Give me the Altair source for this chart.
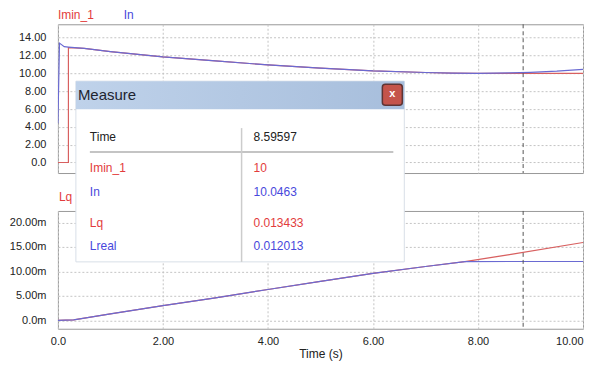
import altair as alt
import pandas as pd

# ---------------- data ----------------
top_series = ["Imin_1", "In"]
bottom_series = ["Lq", "Lreal"]

t_imin = [0.0, 0.2, 0.2, 0.5, 1.0, 2.0, 3.0, 4.0, 5.0, 6.0, 7.0, 7.5, 8.0, 10.0]
imin_vals = [0.0, 0.0, 12.9, 12.8, 12.45, 11.85, 11.4, 10.95, 10.6, 10.28, 10.1, 10.03, 10.0, 10.0]

t_in = [0.0, 0.03, 0.12, 0.2, 0.5, 1.0, 2.0, 3.0, 4.0, 5.0, 6.0, 7.0, 7.5, 8.0, 8.6, 9.0, 9.5, 10.0]
in_vals = [4.4, 13.4, 13.0, 12.95, 12.8, 12.45, 11.85, 11.4, 10.95, 10.6, 10.28, 10.1, 10.03, 10.0, 10.05, 10.12, 10.25, 10.45]

t_lq = [0.0, 0.3, 1.0, 2.0, 3.0, 4.0, 5.0, 6.0, 7.0, 7.75, 8.6, 10.0]
lq_vals = [0.0, 0.0001, 0.0013, 0.0030, 0.0046, 0.0063, 0.00795, 0.0096, 0.0110, 0.0120, 0.013433, 0.0159]

t_lreal = [0.0, 0.3, 1.0, 2.0, 3.0, 4.0, 5.0, 6.0, 7.0, 7.75, 8.6, 10.0]
lreal_vals = [0.0, 0.0001, 0.0013, 0.0030, 0.0046, 0.0063, 0.00795, 0.0096, 0.0110, 0.0120, 0.012013, 0.012013]

cursor_time = [8.86]

x_ticks = [0, 2, 4, 6, 8, 10]
top_y_ticks = [0, 2, 4, 6, 8, 10, 12, 14]
bottom_y_ticks = [0, 0.005, 0.010, 0.015, 0.020]

measure_title = "Measure"
measure_names = ["Time", "Imin_1", "In", "Lq", "Lreal"]
measure_values = ["8.59597", "10", "10.0463", "0.013433", "0.012013"]
x_title = "Time (s)"

# ---------------- styles / layout ----------------
RED_T = "#e23c3c"
BLUE_T = "#4848dc"
RED_L = "#d86060"
BLUE_L = "#6a6ad2"
FONT = "Liberation Sans"
W = 526
H_TOP = 149
H_BOT = 118
row_px = [-74, -43, -19, 12, 35]
row_colors = ["#222222", RED_T, BLUE_T, RED_T, BLUE_T]

one = pd.DataFrame({"k": [0]})

x_scale = alt.Scale(domain=[0, 10], nice=False, zero=False)
top_y_scale = alt.Scale(domain=[-1.18, 15.51], nice=False, zero=False)
bot_y_scale = alt.Scale(domain=[-0.00173, 0.02235], nice=False, zero=False)

top_x = alt.X("t:Q", scale=x_scale,
              axis=alt.Axis(values=x_ticks, labels=False, ticks=False, domain=False, title=None, grid=True))
top_y = alt.Y("v:Q", scale=top_y_scale,
              axis=alt.Axis(values=top_y_ticks, ticks=False, domain=False, title=None, grid=True,
                            labelPadding=12, labelFontSize=11, labelColor="#222", labelOverlap=False,
                            labelExpr="datum.value == 0 ? '0.0' : format(datum.value, '.2f')"))
bot_x = alt.X("t:Q", scale=x_scale,
              axis=alt.Axis(values=x_ticks, ticks=False, domain=False, grid=True, title=x_title,
                            labelPadding=7, labelFontSize=11, labelColor="#222", labelFlush=False,
                            labelOverlap=False,
                            labelAlign={"condition": {"test": "datum.value >= 10", "value": "right"},
                                        "value": "center"},
                            titleFontSize=12, titleFontWeight="normal", titleColor="#222",
                            titlePadding=2,
                            labelExpr="datum.value == 0 ? '0.0' : format(datum.value, '.2f')"))
bot_y = alt.Y("v:Q", scale=bot_y_scale,
              axis=alt.Axis(values=bottom_y_ticks, ticks=False, domain=False, title=None, grid=True,
                            labelPadding=12, labelFontSize=11, labelColor="#222", labelOverlap=False,
                            labelExpr="datum.value == 0 ? '0.0m' : format(datum.value * 1000, '.2f') + 'm'"))


def line_layer(ts, vs, color, xenc, yenc):
    df = pd.DataFrame({"t": ts, "v": vs, "i": list(range(len(ts)))})
    return alt.Chart(df).mark_line(strokeWidth=1.2, clip=True, color=color).encode(
        x=xenc, y=yenc, order=alt.Order("i:Q")
    )


def label(text, color, px, py, size=12):
    return alt.Chart(pd.DataFrame({"s": [text]})).mark_text(
        align="left", baseline="middle", fontSize=size, font=FONT, color=color
    ).encode(text="s:N", x=alt.value(px), y=alt.value(py))


cur_df = pd.DataFrame({"t": cursor_time})

# ---------------- top panel ----------------
top_cursor = alt.Chart(cur_df).mark_rule(color="#555555", strokeDash=[4, 3], strokeWidth=1).encode(x=top_x)

top = alt.layer(
    line_layer(t_imin, imin_vals, RED_L, top_x, top_y),
    line_layer(t_in, in_vals, BLUE_L, top_x, top_y),
    top_cursor,
    label(top_series[0], RED_T, 0, -9),
    label(top_series[1], BLUE_T, 66, -9),
).properties(width=W, height=H_TOP)

# ---------------- bottom panel ----------------
bot_cursor = alt.Chart(cur_df).mark_rule(color="#555555", strokeDash=[4, 3], strokeWidth=1).encode(x=bot_x)

# measure box (overlay)
box_body = alt.Chart(one).mark_rect(fill="white", stroke="#d8dfe8", strokeWidth=1).encode(
    x=alt.value(18), x2=alt.value(347), y=alt.value(-130), y2=alt.value(51)
)
box_head = alt.Chart(one).mark_rect(
    fill=alt.Gradient(gradient="linear",
                      stops=[alt.GradientStop(color="#bfd2ea", offset=0),
                             alt.GradientStop(color="#a7bedc", offset=1)],
                      x1=0, x2=1, y1=0, y2=0)
).encode(x=alt.value(18), x2=alt.value(347), y=alt.value(-130), y2=alt.value(-102))
box_close = alt.Chart(one).mark_rect(fill="#c4544b", stroke="#5e3434", strokeWidth=1.5, cornerRadius=3).encode(
    x=alt.value(325), x2=alt.value(345), y=alt.value(-127), y2=alt.value(-106)
)
box_close_x = alt.Chart(one).mark_text(text="x", fontSize=11, fontWeight="bold", color="white",
                                       font=FONT, align="center", baseline="middle").encode(
    x=alt.value(335), y=alt.value(-117)
)
box_hsep = alt.Chart(one).mark_rule(color="#c4c4c4", strokeWidth=2).encode(
    x=alt.value(32), x2=alt.value(336), y=alt.value(-59)
)
box_vsep = alt.Chart(one).mark_rule(color="#cccccc", strokeWidth=1.5).encode(
    x=alt.value(184), y=alt.value(-83), y2=alt.value(51)
)

table_layers = []
for name, val, py, col in zip(measure_names, measure_values, row_px, row_colors):
    table_layers.append(label(name, col, 32, py))
    table_layers.append(label(val, col, 196, py))

bottom = alt.layer(
    line_layer(t_lq, lq_vals, RED_L, bot_x, bot_y),
    line_layer(t_lreal, lreal_vals, BLUE_L, bot_x, bot_y),
    bot_cursor,
    label(bottom_series[0], RED_T, 1, -14),
    box_body, box_head, box_close, box_close_x,
    label(measure_title, "#1e2430", 20, -116, size=15),
    box_hsep, box_vsep, *table_layers
).properties(width=W, height=H_BOT)

chart = alt.vconcat(top, bottom, spacing=38, bounds="flush").properties(
    padding=0, background="white"
).configure(font=FONT).configure_view(
    stroke="#999999", strokeWidth=1
).configure_axis(
    gridColor="#c4c4c4", gridDash=[2, 2], gridWidth=1, labelFont=FONT, titleFont=FONT
)

chart.save("out.html", embed_options={"renderer": "svg", "actions": False})
